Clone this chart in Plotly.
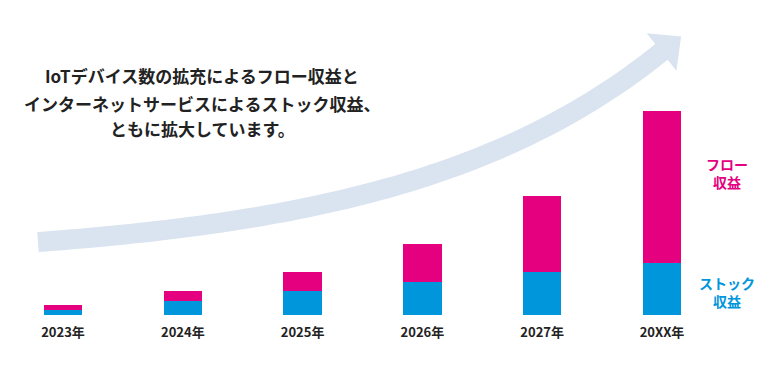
import numpy as np
import plotly.graph_objects as go

# ---- data ----
categories = ["2023年", "2024年", "2025年", "2026年", "2027年", "20XX年"]
stock_values = [5, 14, 24, 33, 43, 52]
flow_values = [5, 10, 19, 38, 76, 152]
title_lines = [
    "IoTデバイス数の拡充によるフロー収益と",
    "インターネットサービスによるストック収益、",
    "ともに拡大しています。",
]
flow_label = "フロー<br>収益"
stock_label = "ストック<br>収益"

# the page body has an 8px margin, so the figure is sized to fit the window
OFF = 8
W, H = 783 - OFF, 382 - OFF
PINK = "#E4007F"
BLUE = "#0096DC"
ARROW = "#DAE3F0"
FONT = "Noto Sans CJK JP"


def px(x):
    return (x - OFF) / W


def py(y):
    return 1 - (y - OFF) / H


fig = go.Figure()
fig.add_trace(go.Bar(x=categories, y=stock_values, marker=dict(color=BLUE, line=dict(width=0)),
                     name="ストック収益", hoverinfo="skip"))
fig.add_trace(go.Bar(x=categories, y=flow_values, marker=dict(color=PINK, line=dict(width=0)),
                     name="フロー収益", hoverinfo="skip"))

# ---- decorative curved arrow (window-pixel geometry -> paper coords) ----
xs = np.linspace(38, 661.5, 80)
ys = 242 - 19 * (np.exp((xs - 38) / 260) - 1)
dy = np.gradient(ys, xs)
norm = np.sqrt(1 + dy ** 2)
nx, ny = -dy / norm, 1 / norm
half = 10
upper = [(x - half * a, y - half * b) for x, y, a, b in zip(xs, ys, nx, ny)]
lower = [(x + half * a, y + half * b) for x, y, a, b in zip(xs, ys, nx, ny)]
ex, ey = xs[-1], ys[-1]
d = np.array([1.0, dy[-1]]) / norm[-1]
n = np.array([nx[-1], ny[-1]])
c = np.array([ex, ey])
wing_up = c - 24 * n
wing_dn = c + 24 * n
tip = c + 25 * d
pts = upper + [tuple(wing_up), tuple(tip), tuple(wing_dn)] + lower[::-1]
path = "M " + " L ".join(f"{px(x):.5f},{py(y):.5f}" for x, y in pts) + " Z"

fig.add_shape(type="path", path=path, xref="paper", yref="paper",
              fillcolor=ARROW, line=dict(width=0), layer="below")

# ---- texts ----
for line, yy in zip(title_lines, [75, 103, 129]):
    fig.add_annotation(text=line, x=px(202), y=py(yy), xref="paper", yref="paper",
                       showarrow=False, xanchor="center", yanchor="middle",
                       font=dict(family=FONT, size=17, color="#222222", weight="bold"))

fig.add_annotation(text=flow_label, x=px(727), y=py(173), xref="paper", yref="paper",
                   showarrow=False, xanchor="center", yanchor="middle", align="center",
                   font=dict(family=FONT, size=14, color=PINK, weight="bold"))
fig.add_annotation(text=stock_label, x=px(727), y=py(292), xref="paper", yref="paper",
                   showarrow=False, xanchor="center", yanchor="middle", align="center",
                   font=dict(family=FONT, size=14, color=BLUE, weight="bold"))

total_max = max(s + f for s, f in zip(stock_values, flow_values))

# category centres sit at window x = 63 + 119.8 * i
step, c0 = 119.8, 63
x_lo, x_hi = OFF, 722
fig.update_layout(
    width=W, height=H,
    margin=dict(l=0, r=0, t=0, b=0),
    paper_bgcolor="white", plot_bgcolor="rgba(0,0,0,0)",
    barmode="stack", bargap=0.68, showlegend=False,
    xaxis=dict(domain=[px(x_lo), px(x_hi)],
               range=[(x_lo - c0) / step, (x_hi - c0) / step],
               showgrid=False, zeroline=False,
               showline=False, ticks="", ticklabelstandoff=8,
               tickfont=dict(family=FONT, size=13, color="#222222", weight="bold"),
               fixedrange=True),
    yaxis=dict(domain=[py(315), py(111)], range=[0, total_max], visible=False,
               showgrid=False, zeroline=False, fixedrange=True),
)

fig.write_html("out.html")
